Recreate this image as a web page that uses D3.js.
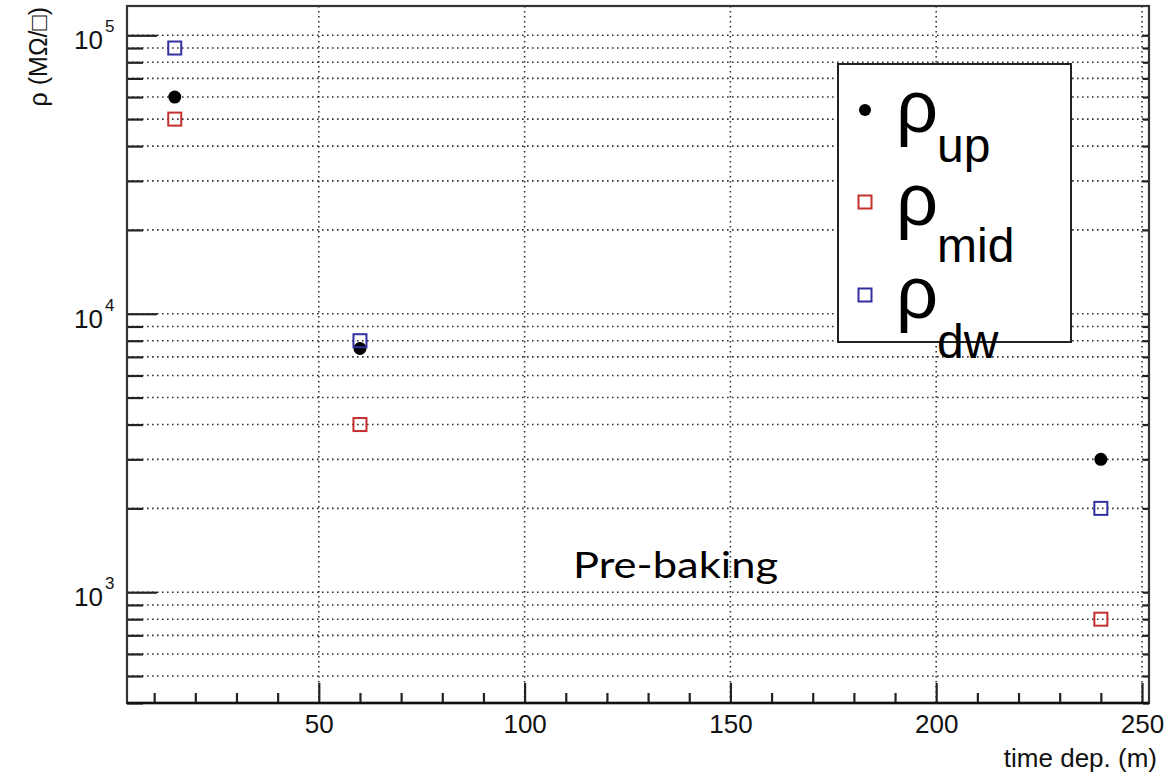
<!DOCTYPE html>
<html>
<head>
<meta charset="utf-8">
<script src="https://cdn.jsdelivr.net/npm/d3@7"></script>
<style>
  body { margin: 0; background: #fff; }
  svg { display: block; }
</style>
</head>
<body>
<svg id="chart"></svg>
<script>
// measured values (time in minutes, resistivity in MOhm/sq)
var times = [15, 60, 240];
var rhoUp = [60000, 7500, 3000];
var rhoMid = [50000, 4000, 800];
var rhoDw = [90000, 8000, 2000];

var xMajor = [50, 100, 150, 200, 250];
var xMinor = [10, 20, 30, 40, 60, 70, 80, 90, 110, 120, 130, 140, 160, 170, 180, 190, 210, 220, 230, 240];
var yMajor = [1e3, 1e4, 1e5];
var yExp = ["3", "4", "5"];

var width = 1170, height = 774;
var margin = ({top: 6, right: 21, bottom: 71, left: 127});

var svg = d3.select("#chart")
    .attr("width", width)
    .attr("height", height)
    .attr("viewBox", [0, 0, width, height]);

var x = d3.scaleLinear()
    .domain([3.4, 251.7])
    .range([margin.left, width - margin.right]);
var y = d3.scaleLog()
    .domain([400, 127400])
    .range([height - margin.bottom, margin.top]);

var yAll = y.ticks();
var yMinor = yAll.filter(d => yMajor.indexOf(d) < 0);

var x0 = margin.left, x1 = width - margin.right;
var y0 = height - margin.bottom, y1 = margin.top;

// grid
var grid = svg.append("g")
    .attr("stroke", "#333")
    .attr("stroke-width", 1.6)
    .attr("stroke-dasharray", "1.6,3.4");
grid.selectAll("line.h")
    .data(yAll)
    .join("line")
    .attr("class", "h")
    .attr("x1", x0).attr("x2", x1)
    .attr("y1", d => y(d)).attr("y2", d => y(d));
grid.selectAll("line.v")
    .data(xMajor)
    .join("line")
    .attr("class", "v")
    .attr("x1", d => x(d)).attr("x2", d => x(d))
    .attr("y1", y1).attr("y2", y0);

// ticks
function ticks(axis, tr) {
    svg.append("g")
        .attr("transform", tr)
        .call(axis)
        .call(g => g.select(".domain").remove())
        .call(g => g.selectAll(".tick line").attr("stroke", "#222").attr("stroke-width", 2.2));
}
ticks(d3.axisRight(y).tickValues(yMajor).tickSize(30).tickFormat(""), `translate(${x0},0)`);
ticks(d3.axisRight(y).tickValues(yMinor).tickSize(16).tickFormat(""), `translate(${x0},0)`);
ticks(d3.axisLeft(y).tickValues(yAll).tickSize(6).tickFormat(""), `translate(${x1},0)`);
ticks(d3.axisTop(x).tickValues(xMajor).tickSize(20).tickFormat(""), `translate(0,${y0})`);
ticks(d3.axisTop(x).tickValues(xMinor).tickSize(10).tickFormat(""), `translate(0,${y0})`);

// x labels
svg.append("g")
    .attr("transform", `translate(0,${y0})`)
    .call(d3.axisBottom(x).tickValues(xMajor).tickSize(0).tickPadding(12))
    .call(g => g.select(".domain").remove())
    .call(g => g.selectAll("text")
        .attr("font-family", "Liberation Sans, Arial, sans-serif")
        .attr("font-size", 26)
        .attr("fill", "#111"));

// y labels 10^n
var yl = svg.append("g")
    .attr("font-family", "Liberation Sans, Arial, sans-serif")
    .attr("fill", "#111");
yMajor.forEach(function(v, i) {
    yl.append("text")
        .attr("x", 103).attr("y", y(v) + 14)
        .attr("text-anchor", "end")
        .attr("font-size", 26)
        .text("10");
    yl.append("text")
        .attr("x", 105).attr("y", y(v) - 3)
        .attr("font-size", 17)
        .text(yExp[i]);
});

// frame
svg.append("rect")
    .attr("x", x0).attr("y", y1)
    .attr("width", x1 - x0).attr("height", y0 - y1)
    .attr("fill", "none")
    .attr("stroke", "#333")
    .attr("stroke-width", 2.2);
svg.append("line")
    .attr("x1", x0).attr("x2", x1).attr("y1", y0).attr("y2", y0)
    .attr("stroke", "#111").attr("stroke-width", 2.6);

// axis titles
svg.append("text")
    .attr("transform", "translate(47,7) rotate(-90)")
    .attr("text-anchor", "end")
    .attr("font-family", "Liberation Sans, Arial, sans-serif")
    .attr("font-size", 25)
    .attr("fill", "#111")
    .text("ρ (MΩ/□)");
svg.append("text")
    .attr("x", 1157).attr("y", 767)
    .attr("text-anchor", "end")
    .attr("font-family", "Liberation Sans, Arial, sans-serif")
    .attr("font-size", 26)
    .attr("fill", "#111")
    .text("time dep. (m)");

// markers
var red = "#c4302e", blue = "#30309f";
function squares(vals, color) {
    svg.append("g")
        .selectAll("rect")
        .data(vals)
        .join("rect")
        .attr("x", (d, i) => x(times[i]) - 6.5)
        .attr("y", d => y(d) - 6.5)
        .attr("width", 13).attr("height", 13)
        .attr("fill", "none")
        .attr("stroke", color)
        .attr("stroke-width", 2);
}
squares(rhoMid, red);
svg.append("g")
    .selectAll("circle")
    .data(rhoUp)
    .join("circle")
    .attr("cx", (d, i) => x(times[i]))
    .attr("cy", d => y(d))
    .attr("r", 6.5)
    .attr("fill", "#000");
squares(rhoDw, blue);

// annotation
svg.append("text")
    .attr("x", 573).attr("y", 578)
    .attr("font-family", "Lato, Open Sans, sans-serif")
    .attr("font-size", 36)
    .attr("textLength", 205)
    .attr("lengthAdjust", "spacingAndGlyphs")
    .attr("fill", "#000")
    .text("Pre-baking");

// legend
var leg = svg.append("g");
leg.append("rect")
    .attr("x", 838).attr("y", 64)
    .attr("width", 233).attr("height", 278)
    .attr("fill", "#fff")
    .attr("stroke", "#222")
    .attr("stroke-width", 2);
var legNames = ["up", "mid", "dw"];
var legY = [110, 202, 295];
var legBase = [132, 225, 318];
var legSub = [162, 262, 358];
leg.append("circle").attr("cx", 865).attr("cy", legY[0]).attr("r", 6).attr("fill", "#000");
[[red, 1], [blue, 2]].forEach(function(p) {
    leg.append("rect")
        .attr("x", 865 - 6.5).attr("y", legY[p[1]] - 6.5)
        .attr("width", 13).attr("height", 13)
        .attr("fill", "none").attr("stroke", p[0]).attr("stroke-width", 2);
});
legNames.forEach(function(n, i) {
    leg.append("text")
        .attr("x", 896).attr("y", legBase[i])
        .attr("font-family", "Liberation Sans, Arial, sans-serif")
        .attr("font-size", 74)
        .text("ρ");
    leg.append("text")
        .attr("x", 937).attr("y", legSub[i])
        .attr("font-family", "Liberation Sans, Arial, sans-serif")
        .attr("font-size", 48)
        .text(n);
});
</script>
</body>
</html>
